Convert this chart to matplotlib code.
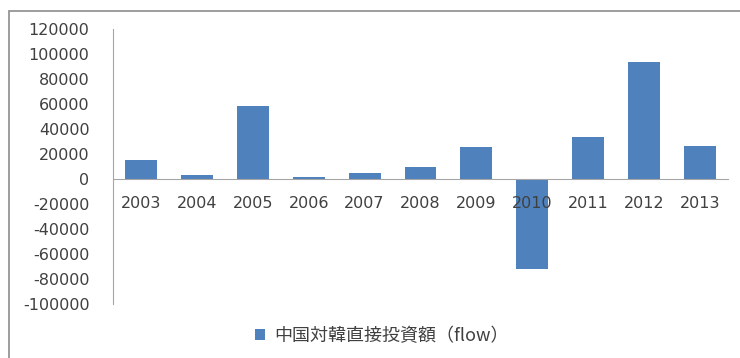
import matplotlib.pyplot as plt
from matplotlib.patches import Rectangle

plt.rcParams['font.family'] = ['DejaVu Sans', 'Noto Sans CJK JP']

# data
years = ['2003', '2004', '2005', '2006', '2007', '2008', '2009', '2010', '2011', '2012', '2013']
flow = [15000, 3200, 58500, 1800, 5000, 9400, 25800, -72000, 33600, 93800, 26400]
yticks = list(range(-100000, 120001, 20000))
series_name = '中国対韓直接投資額（flow）'

bar_color = '#4F81BD'
text_color = '#404040'
axis_color = '#A6A6A6'

fig = plt.figure(figsize=(7.4, 3.58), dpi=100)
ax = fig.add_axes([113/740, 1-304/358, 615/740, 275/358])

x = range(len(years))
bars = ax.bar(x, flow, width=0.57, color=bar_color, label=series_name, zorder=2)
ax.set_axisbelow(False)  # year labels sit on top of the 2010 bar

ax.set_xlim(-0.5, len(years) - 0.5)
ax.set_ylim(-100000, 120000)
ax.set_yticks(yticks)
ax.set_yticklabels([str(v) for v in yticks])
ax.set_xticks(list(x))
ax.set_xticklabels(years)

for s in ['top', 'right']:
    ax.spines[s].set_visible(False)
ax.spines['bottom'].set_position(('data', 0))
ax.spines['bottom'].set_color(axis_color)
ax.spines['left'].set_color(axis_color)
ax.tick_params(axis='y', length=0, pad=17, labelsize=11.5, labelcolor=text_color)
ax.tick_params(axis='x', length=0, pad=12, labelsize=11.5, labelcolor=text_color)

# outer chart frame
fig.patches.append(Rectangle((9/740, -0.2), 1.2, 0.2 + 1 - 11/358,
                             transform=fig.transFigure, fill=False,
                             edgecolor='#8C8C8C', lw=1.2))

fig.legend(handles=[bars], labels=[series_name], loc='center',
           bbox_to_anchor=(382/740, 1-336/358), frameon=False,
           handlelength=0.55, handleheight=0.55, handletextpad=0.5,
           prop={'size': 13, 'family': ['Noto Sans CJK JP']}, labelcolor=text_color)

fig.savefig('out.png', dpi=100)
